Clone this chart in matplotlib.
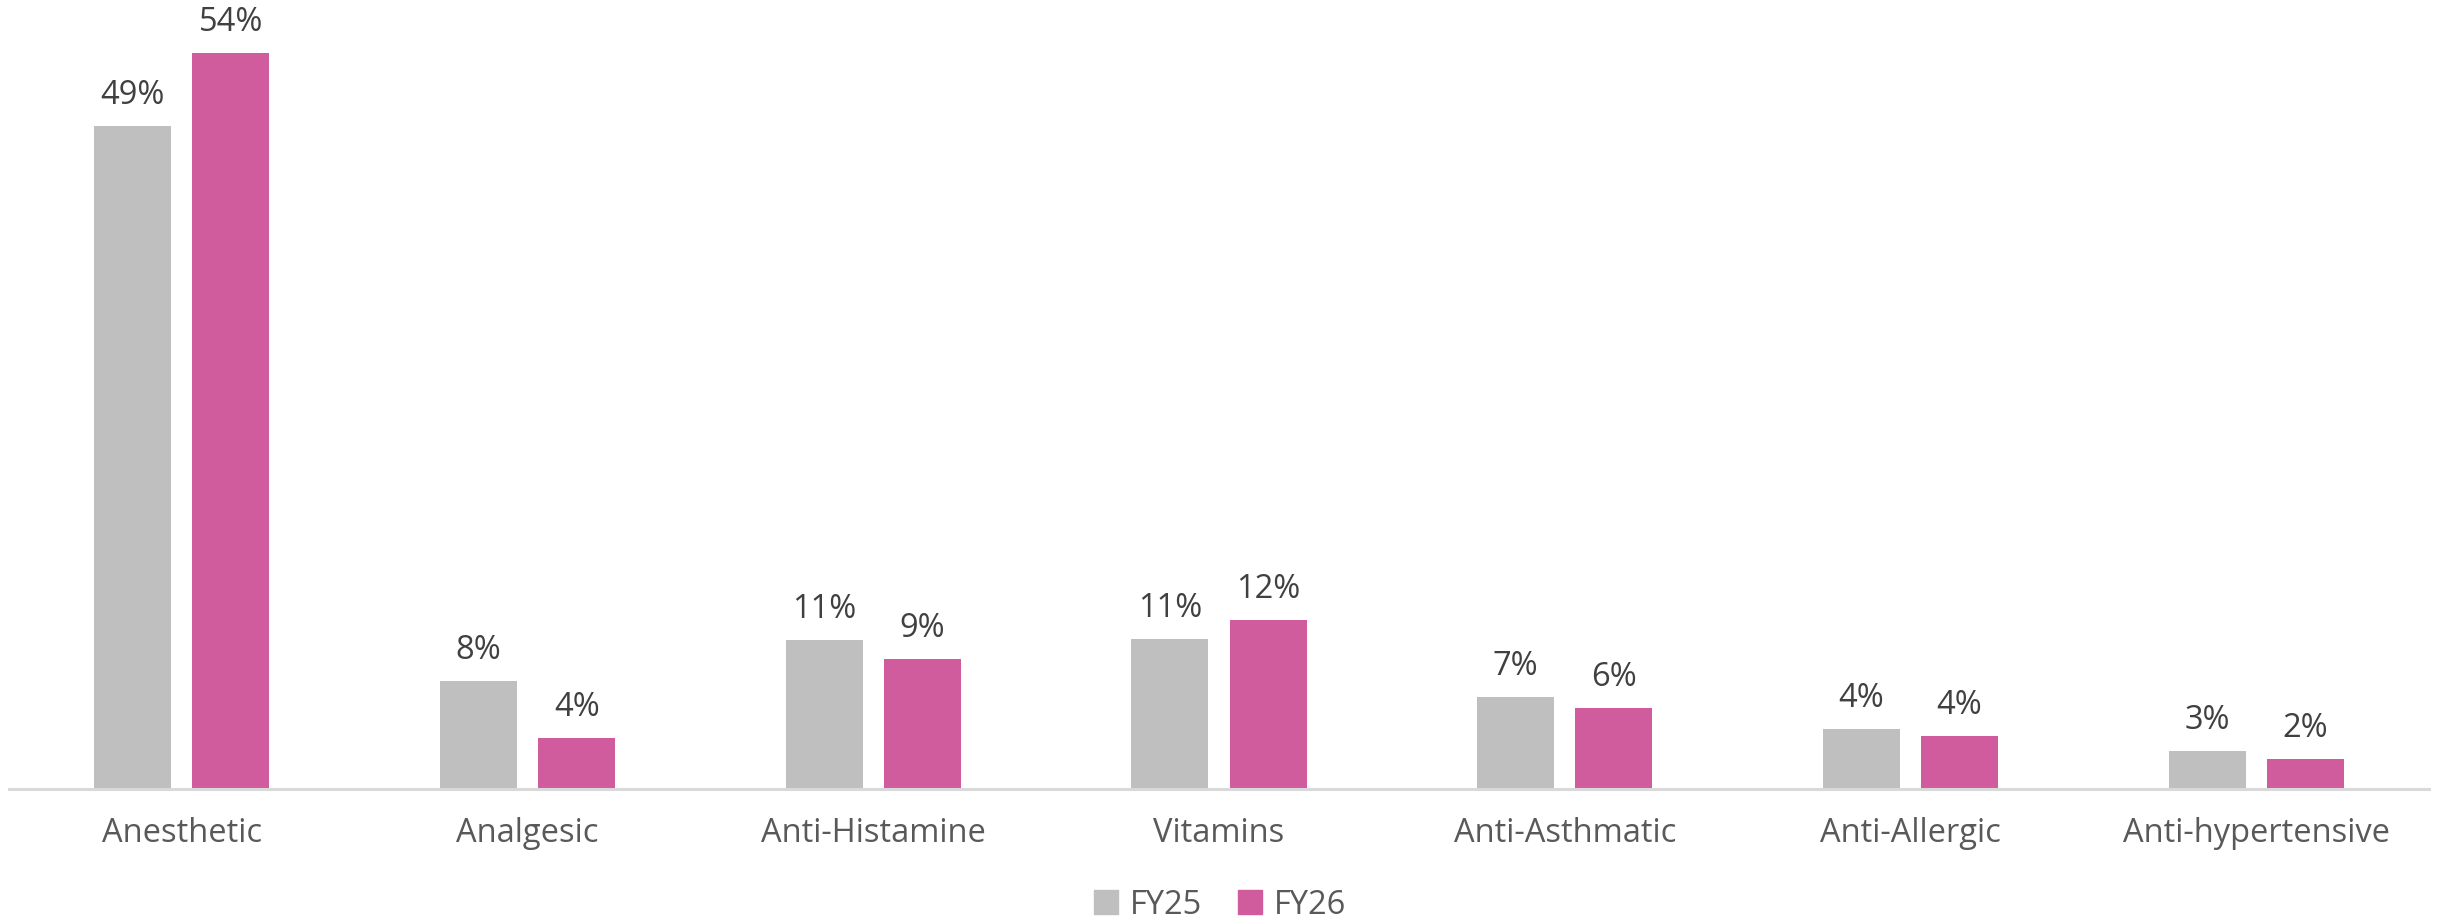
import matplotlib
matplotlib.use("Agg")
import matplotlib.pyplot as plt
import numpy as np
from matplotlib.patches import Patch

categories = ["Anesthetic", "Analgesic", "Anti-Histamine", "Vitamins",
              "Anti-Asthmatic", "Anti-Allergic", "Anti-hypertensive"]
fy25 = [49.0, 8.0, 11.0, 11.1, 6.8, 4.4, 2.8]
fy26 = [54.4, 3.8, 9.6, 12.5, 6.0, 3.9, 2.2]
fy25_labels = ["49%", "8%", "11%", "11%", "7%", "4%", "3%"]
fy26_labels = ["54%", "4%", "9%", "12%", "6%", "4%", "2%"]
series_names = ["FY25", "FY26"]

c25 = "#BFBFBF"
c26 = "#D05C9E"

plt.rcParams['font.family'] = ['Open Sans', 'DejaVu Sans']

fig = plt.figure(figsize=(24.4, 9.19), dpi=100)
ax = fig.add_axes([9/2440, 130/919, 2420/2440, 789/919])

x = np.arange(len(categories))
w = 0.223
off = 0.142
b1 = ax.bar(x - off, fy25, width=w, color=c25)
b2 = ax.bar(x + off, fy26, width=w, color=c26)

for bars, labs in ((b1, fy25_labels), (b2, fy26_labels)):
    for r, lab in zip(bars, labs):
        ax.annotate(lab, (r.get_x() + r.get_width()/2, r.get_height()),
                    xytext=(0, 14), textcoords='offset pixels',
                    ha='center', va='bottom', fontsize=23.5, color='#404040')

ax.set_xlim(-0.5, len(categories) - 0.5)
ax.set_ylim(0, 58.3)
ax.set_yticks([])
ax.set_xticks(x)
ax.set_xticklabels(categories, fontsize=23.5, color='#595959')
ax.tick_params(axis='x', length=0, pad=20)
for s in ['top', 'right', 'left']:
    ax.spines[s].set_visible(False)
ax.spines['bottom'].set_color('#D9D9D9')
ax.spines['bottom'].set_linewidth(2.2)

handles = [Patch(color=c25, label=series_names[0]), Patch(color=c26, label=series_names[1])]
leg = fig.legend(handles=handles, loc='center', bbox_to_anchor=(0.5, 1 - 905/919),
                 ncol=2, frameon=False, fontsize=23.5, handlelength=0.75, handleheight=0.75,
                 handletextpad=0.35, columnspacing=1.1)
for t in leg.get_texts():
    t.set_color('#595959')

fig.savefig("out.png", dpi=100)
